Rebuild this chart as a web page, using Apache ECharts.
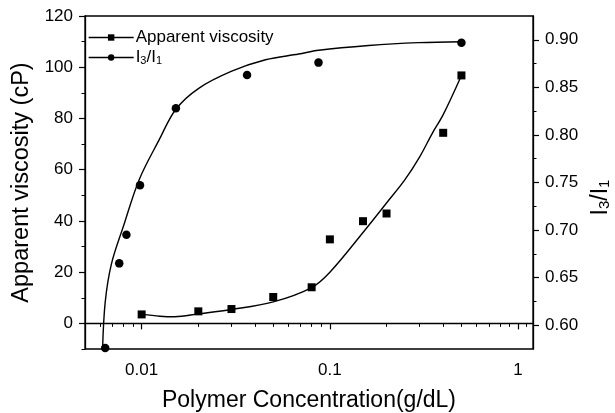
<!DOCTYPE html>
<html>
<head>
<meta charset="utf-8">
<script src="https://cdn.jsdelivr.net/npm/echarts@6/dist/echarts.min.js"></script>
<style>html,body{margin:0;padding:0;background:#fff}#c{width:615px;height:413px}</style>
</head>
<body>
<div id="c"></div>
<script>
// Apparent viscosity (left axis) measured points
const viscX = [0.01, 0.02, 0.03, 0.05, 0.08, 0.1, 0.15, 0.2, 0.4, 0.5];
const viscY = [3.5, 4.7, 5.6, 10.3, 14.1, 32.8, 39.9, 42.9, 74.4, 96.8];
// I3/I1 (right axis) measured points
const ratioX = [0.0064, 0.0076, 0.0083, 0.0098, 0.0152, 0.0363, 0.087, 0.5];
const ratioY = [0.576, 0.665, 0.695, 0.747, 0.828, 0.863, 0.876, 0.897];
// fitted curves
const viscFitX = [0.01, 0.0125, 0.015, 0.02, 0.03, 0.05, 0.08, 0.1, 0.15, 0.2, 0.25, 0.3, 0.35, 0.4, 0.5];
const viscFitY = [3.5, 2.8, 2.6, 3.7, 5.4, 8.4, 14.0, 20.0, 35.5, 47.0, 56.0, 65.0, 74.2, 81.5, 96.8];
const ratioFitX = [0.0062, 0.0064, 0.0069, 0.008, 0.0097, 0.0124, 0.0152, 0.0201, 0.0301, 0.0455, 0.0683, 0.0872, 0.1607, 0.2958, 0.5];
const ratioFitY = [0.575, 0.624, 0.664, 0.704, 0.753, 0.795, 0.827, 0.849, 0.867, 0.879, 0.885, 0.889, 0.894, 0.897, 0.898];
// ticks
const xMajor = [0.01, 0.1, 1];
const xMinor = [0.005, 0.006, 0.007, 0.008, 0.009, 0.02, 0.03, 0.04, 0.05, 0.06, 0.07, 0.08, 0.09, 0.2, 0.3, 0.4, 0.5, 0.6, 0.7, 0.8, 0.9, 1.1];
const leftMajor = [0, 20, 40, 60, 80, 100, 120];
const leftMinor = [-10, 10, 30, 50, 70, 90, 110];
const rightMajor = [0.60, 0.65, 0.70, 0.75, 0.80, 0.85, 0.90];
const rightMinor = [0.625, 0.675, 0.725, 0.775, 0.825, 0.875];

const FONT = 'Arial, "Liberation Sans", sans-serif';
const pair = (xs, ys) => xs.map((x, i) => [x, ys[i]]);

const chart = echarts.init(document.getElementById('c'), null, {renderer: 'canvas'});
const axLine = {show: true, lineStyle: {color: '#000', width: 1.3}};
chart.setOption({
  animation: false,
  backgroundColor: '#fff',
  grid: {left: 85, right: 82, top: 16, bottom: 64, containLabel: false, outerBoundsMode: 'none',
    show: true, borderColor: '#000', borderWidth: 1.3, backgroundColor: 'transparent'},
  legend: {
    orient: 'vertical', left: 83, top: 24, itemGap: 3, itemWidth: 45, itemHeight: 8,
    data: ['Apparent viscosity', 'I3/I1'],
    lineStyle: {color: '#000', width: 1.3, opacity: 1, type: 'solid'},
    formatter: n => n === 'I3/I1' ? 'I{sub|3}/I{sub|1}' : n,
    textStyle: {color: '#000', fontSize: 17, fontFamily: FONT, padding: [0, 0, 0, -3],
      rich: {sub: {fontSize: 11, fontFamily: FONT, color: '#000', verticalAlign: 'bottom'}}}
  },
  xAxis: [
    {type: 'log', logBase: 10, min: 0.005, max: 1.2, position: 'bottom',
     name: 'Polymer Concentration(g/dL)', nameLocation: 'middle', nameGap: 40,
     nameTextStyle: {color: '#000', fontSize: 23, fontFamily: FONT},
     axisLine: axLine,
     axisTick: {show: true, inside: false, length: 6, customValues: xMajor, lineStyle: {color: '#000', width: 1.2}},
     axisLabel: {show: true, customValues: xMajor, margin: 13, color: '#000', fontSize: 17, fontFamily: FONT,
       formatter: v => String(parseFloat(Number(v).toPrecision(3)))},
     splitLine: {show: false}, minorTick: {show: false}},
    {type: 'log', logBase: 10, min: 0.005, max: 1.2, position: 'bottom',
     axisLine: {show: false},
     axisTick: {show: true, inside: false, length: 3.5, customValues: xMinor, lineStyle: {color: '#000', width: 1}},
     axisLabel: {show: false}, splitLine: {show: false}}
  ],
  yAxis: [
    {type: 'value', min: -10, max: 120, interval: 10, position: 'left',
     name: 'Apparent viscosity (cP)', nameLocation: 'middle', nameGap: 48, nameRotate: 90,
     nameTextStyle: {color: '#000', fontSize: 23.5, fontFamily: FONT},
     axisLine: axLine,
     axisTick: {show: true, length: 6, customValues: leftMajor, lineStyle: {color: '#000', width: 1.2}},
     axisLabel: {show: true, customValues: leftMajor, margin: 12, color: '#000', fontSize: 17, fontFamily: FONT},
     splitLine: {show: false}},
    {type: 'value', min: 0.575, max: 0.925, interval: 0.025, position: 'right',
     name: 'I{sub|3}/I{sub|1}', nameLocation: 'middle', nameGap: 55, nameRotate: 90,
     nameTextStyle: {color: '#000', fontSize: 23, fontFamily: FONT, padding: [0, 30, 0, 0],
       rich: {sub: {fontSize: 15, fontFamily: FONT, color: '#000', verticalAlign: 'bottom'}}},
     axisLine: axLine,
     axisTick: {show: true, length: 6, customValues: rightMajor, lineStyle: {color: '#000', width: 1.2}},
     axisLabel: {show: true, customValues: rightMajor, margin: 12, color: '#000', fontSize: 17, fontFamily: FONT,
       formatter: v => Number(v).toFixed(2)},
     splitLine: {show: false}},
    {type: 'value', min: -10, max: 120, position: 'left',
     axisLine: {show: false},
     axisTick: {show: true, length: 3.5, customValues: leftMinor, lineStyle: {color: '#000', width: 1}},
     axisLabel: {show: false}, splitLine: {show: false}},
    {type: 'value', min: 0.575, max: 0.925, position: 'right',
     axisLine: {show: false},
     axisTick: {show: true, length: 3.5, customValues: rightMinor, lineStyle: {color: '#000', width: 1}},
     axisLabel: {show: false}, splitLine: {show: false}}
  ],
  series: [
    {name: 'fitV', type: 'line', xAxisIndex: 0, yAxisIndex: 0, data: pair(viscFitX, viscFitY),
     smooth: 0.35, showSymbol: false, symbol: 'none', silent: true,
     lineStyle: {color: '#000', width: 1.4}, z: 2},
    {name: 'fitR', type: 'line', xAxisIndex: 0, yAxisIndex: 1, data: pair(ratioFitX, ratioFitY),
     smooth: 0.35, showSymbol: false, symbol: 'none', silent: true,
     lineStyle: {color: '#000', width: 1.4}, z: 2},
    {name: 'Apparent viscosity', type: 'line', xAxisIndex: 0, yAxisIndex: 0, data: pair(viscX, viscY),
     symbol: 'rect', symbolSize: 8, showAllSymbol: true, itemStyle: {color: '#000'},
     lineStyle: {color: '#000', width: 0, opacity: 0}, z: 3},
    {name: 'I3/I1', type: 'line', xAxisIndex: 0, yAxisIndex: 1, data: pair(ratioX, ratioY),
     symbol: 'circle', symbolSize: 8.5, showAllSymbol: true, itemStyle: {color: '#000'},
     lineStyle: {color: '#000', width: 0, opacity: 0}, z: 3}
  ]
});
</script>
</body>
</html>
